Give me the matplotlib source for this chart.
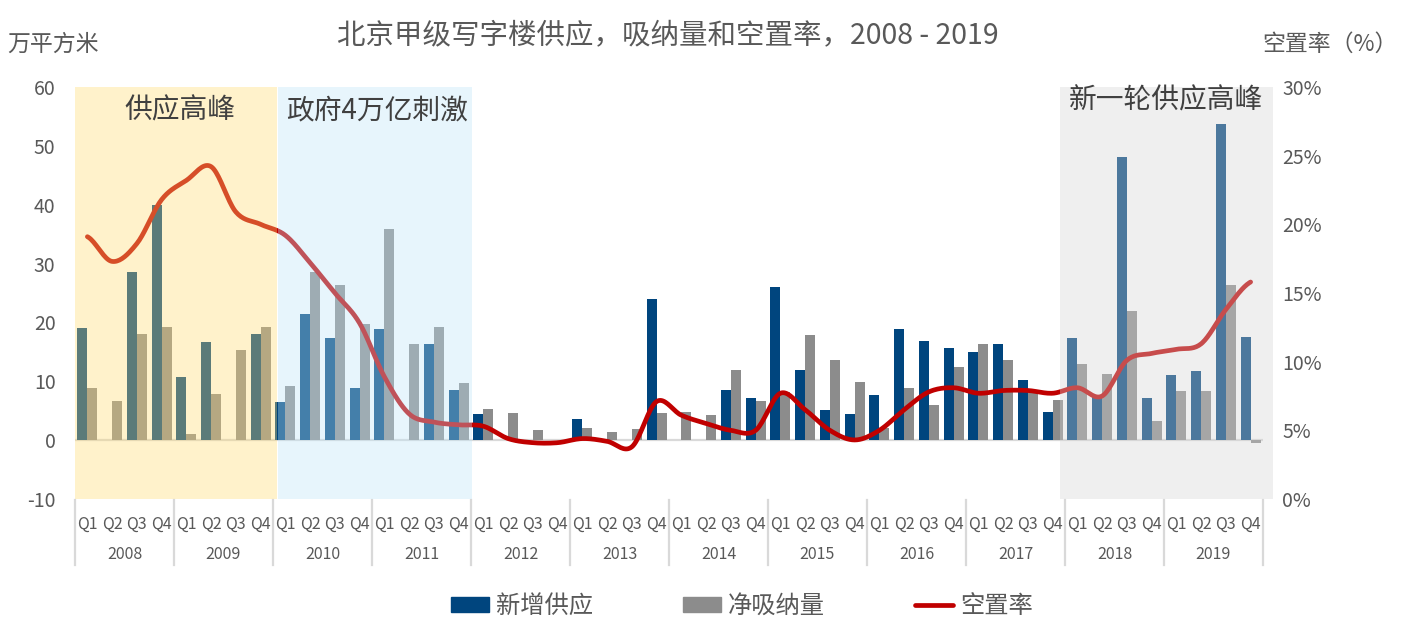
import numpy as np
import matplotlib
matplotlib.use('Agg')
import matplotlib.pyplot as plt
from matplotlib.patches import Patch
from matplotlib.lines import Line2D

plt.rcParams['font.family'] = ['Noto Sans CJK SC', 'DejaVu Sans']

years = [str(y) for y in range(2008, 2020)]
quarters = ['Q1', 'Q2', 'Q3', 'Q4']

# 新增供应 (万平方米)
supply = [19.0, 0, 28.6, 40.0,
          10.8, 16.6, 0, 18.0,
          6.4, 21.4, 17.3, 8.8,
          18.8, 0, 16.3, 8.5,
          4.4, 0, 0, 0,
          3.6, 0, 0, 23.9,
          0, 0, 8.6, 7.1,
          26.1, 11.9, 5.1, 4.4,
          7.6, 18.8, 16.9, 15.6,
          14.9, 16.4, 10.3, 4.7,
          17.3, 7.4, 48.1, 7.1,
          11.0, 11.7, 53.7, 17.5]

# 净吸纳量 (万平方米)
absorption = [8.8, 6.6, 18.1, 19.2,
              1.0, 7.8, 15.3, 19.3,
              9.2, 28.6, 26.4, 19.7,
              35.9, 16.4, 19.3, 9.7,
              5.3, 4.6, 1.7, 0,
              2.0, 1.4, 1.9, 4.6,
              4.7, 4.2, 11.9, 6.6,
              8.1, 17.8, 13.6, 9.8,
              2.0, 8.8, 5.9, 12.4,
              16.4, 13.7, 8.3, 6.8,
              12.9, 11.2, 22.0, 3.2,
              8.3, 8.3, 26.3, -0.5]

# 空置率 (%)
vacancy = [19.1, 17.3, 18.6, 21.8,
           23.2, 24.2, 20.9, 20.0,
           19.2, 17.2, 15.0, 12.8,
           8.9, 6.2, 5.6, 5.4,
           5.3, 4.4, 4.1, 4.1,
           4.4, 4.2, 3.8, 7.1,
           6.1, 5.5, 5.0, 5.0,
           7.7, 6.5, 5.0, 4.3,
           5.0, 6.5, 7.8, 8.1,
           7.7, 7.9, 7.9, 7.7,
           8.1, 7.5, 10.1, 10.6,
           10.9, 11.3, 13.8, 15.8]

left_ticks = [-10, 0, 10, 20, 30, 40, 50, 60]
right_ticks = [0, 5, 10, 15, 20, 25, 30]

C_SUPPLY = '#00457E'
C_ABS = '#8C8C8C'
C_VAC = '#C00000'
TXT = '#595959'

W, H = 1411, 636
fig = plt.figure(figsize=(W / 100, H / 100), dpi=100)
ax = fig.add_axes([75 / W, 137 / H, 1188 / W, 412 / H])
ax2 = ax.twinx()

n = len(supply)
x = np.arange(n)
bw = 10 / 24.75
ax.bar(x - bw / 2, supply, bw, color=C_SUPPLY, zorder=2)
ax.bar(x + bw / 2, absorption, bw, color=C_ABS, zorder=2)
ax.axhline(0, color='#D9D9D9', lw=1.6, zorder=1)
ax.set_xlim(-0.5, n - 0.5)
ax.set_ylim(-10, 60)
ax.set_yticks(left_ticks)
ax.set_yticklabels([str(t) for t in left_ticks])
ax.tick_params(axis='y', length=0, pad=14, labelsize=14, labelcolor=TXT)
ax.set_xticks(x)
ax.set_xticklabels([quarters[i % 4] for i in x])
ax.tick_params(axis='x', length=0, pad=12, labelsize=11.5, labelcolor=TXT)

# smoothed vacancy line (Catmull-Rom through read values)
v = np.array(vacancy, dtype=float)
xs, ys = [], []
for i in range(n - 1):
    p0 = v[max(i - 1, 0)]
    p1 = v[i]
    p2 = v[i + 1]
    p3 = v[min(i + 2, n - 1)]
    t = np.linspace(0, 1, 20, endpoint=False)
    yy = 0.5 * ((2 * p1) + (-p0 + p2) * t + (2 * p0 - 5 * p1 + 4 * p2 - p3) * t ** 2
                + (-p0 + 3 * p1 - 3 * p2 + p3) * t ** 3)
    xs.extend(i + t)
    ys.extend(yy)
xs.append(n - 1)
ys.append(v[-1])
ax2.plot(xs, ys, color=C_VAC, lw=3.4, solid_capstyle='round', zorder=3)
ax2.set_ylim(0, 30)
ax2.set_yticks(right_ticks)
ax2.set_yticklabels([f'{t}%' for t in right_ticks])
ax2.tick_params(axis='y', length=0, pad=14, labelsize=14, labelcolor=TXT)

for a in (ax, ax2):
    for s in a.spines.values():
        s.set_visible(False)

# shaded periods (semi-transparent overlays)
alpha = 0.36
spans = [(-0.5, 7.68, (1.0, 219 / 255, 113 / 255), '供应高峰', 3.74, 0.944),
         (7.72, 15.54, (191 / 255, 230 / 255, 249 / 255), '政府4万亿刺激', 11.7, 0.944),
         (39.3, 47.9, (213 / 255, 213 / 255, 213 / 255), '新一轮供应高峰', 43.6, 0.968)]
for x0, x1, col, label, tx, ty in spans:
    r = ax2.axvspan(x0, x1, color=col, alpha=alpha, lw=0, zorder=5)
    r.set_clip_on(False)
    ax2.text(tx, ty, label, transform=ax2.get_xaxis_transform(), ha='center', va='center',
             fontsize=20, color='#404040', zorder=6)

# category axis: year labels and separators
trans = ax.get_xaxis_transform()
for k in range(len(years) + 1):
    xb = 4 * k - 0.5
    ax.add_line(Line2D([xb, xb], [-0.003, -0.16], transform=trans, color='#D9D9D9',
                       lw=1.6, clip_on=False))
for k, yr in enumerate(years):
    ax.text(4 * k + 1.5, -0.134, yr, transform=trans, ha='center', va='center',
            fontsize=11.5, color=TXT)

# titles
fig.text(0.4736, 1 - 35 / H, '北京甲级写字楼供应，吸纳量和空置率，2008 - 2019', ha='center',
         va='center', fontsize=20.5, color=TXT)
fig.text(7 / W, 1 - 44 / H, '万平方米', ha='left', va='center', fontsize=16.5, color=TXT)
fig.text(1262 / W, 1 - 44 / H, '空置率（%）', ha='left', va='center', fontsize=16.5, color=TXT)

handles = [Patch(color=C_SUPPLY), Patch(color=C_ABS), Line2D([], [], color=C_VAC, lw=3.4, solid_capstyle='round')]
fig.legend(handles, ['新增供应', '净吸纳量', '空置率'], loc='center', bbox_to_anchor=(742 / W, 1 - 606 / H),
           ncol=3, frameon=False, fontsize=17.5, handlelength=1.55, handleheight=0.55,
           handletextpad=0.3, columnspacing=3.7, labelcolor=TXT)

fig.savefig('out.png', dpi=100)
